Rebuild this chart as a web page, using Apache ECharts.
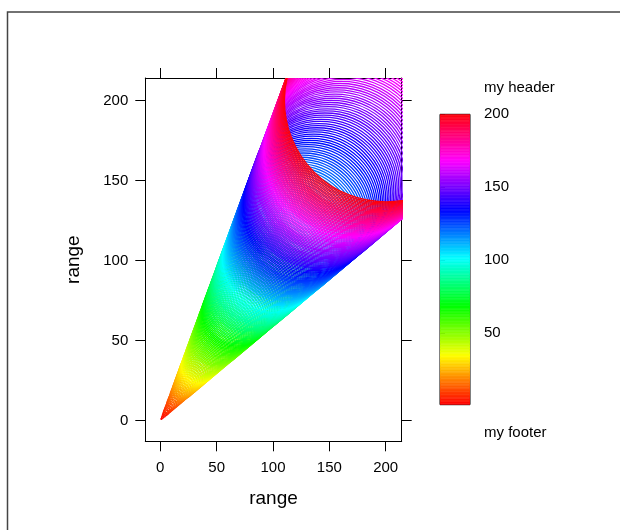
<!DOCTYPE html>
<html>
<head>
<meta charset="utf-8">
<script src="https://cdn.jsdelivr.net/npm/echarts@6/dist/echarts.min.js"></script>
<style>html,body{margin:0;padding:0;background:#fff}#c{width:620px;height:530px}</style>
</head>
<body>
<div id="c"></div>
<script>
// ---- data ----
const xValues = [1,2,3,4,5,6,7,8,9,10,11,12,13,14,15,16,17,18,19,20,21,22,23,24,25,26,27,28,29,30,31,32,33,34,35,36,37,38,39,40,41,42,43,44,45,46,47,48,49,50,51,52,53,54,55,56,57,58,59,60,61,62,63,64,65,66,67,68,69,70,71,72,73,74,75,76,77,78,79,80,81,82,83,84,85,86,87,88,89,90,91,92,93,94,95,96,97,98,99,100,101,102,103,104,105,106,107,108,109,110,111,112,113,114,115,116,117,118,119,120,121,122,123,124,125,126,127,128,129,130,131,132,133,134,135,136,137,138,139,140,141,142,143,144,145,146,147,148,149,150,151,152,153,154,155,156,157,158,159,160,161,162,163,164,165,166,167,168,169,170,171,172,173,174,175,176,177,178,179,180,181,182,183,184,185,186,187,188,189,190,191,192,193,194,195,196,197,198,199,200];
const yValues = [1,2,3,4,5,6,7,8,9,10,11,12,13,14,15,16,17,18,19,20,21,22,23,24,25,26,27,28,29,30,31,32,33,34,35,36,37,38,39,40,41,42,43,44,45,46,47,48,49,50,51,52,53,54,55,56,57,58,59,60,61,62,63,64,65,66,67,68,69,70,71,72,73,74,75,76,77,78,79,80,81,82,83,84,85,86,87,88,89,90,91,92,93,94,95,96,97,98,99,100,101,102,103,104,105,106,107,108,109,110,111,112,113,114,115,116,117,118,119,120,121,122,123,124,125,126,127,128,129,130,131,132,133,134,135,136,137,138,139,140,141,142,143,144,145,146,147,148,149,150,151,152,153,154,155,156,157,158,159,160,161,162,163,164,165,166,167,168,169,170,171,172,173,174,175,176,177,178,179,180,181,182,183,184,185,186,187,188,189,190,191,192,193,194,195,196,197,198,199,200];
const xTicks = [0, 50, 100, 150, 200];
const yTicks = [0, 50, 100, 150, 200];
const keyTicks = [50, 100, 150, 200];
const keyBreaks = [1,2,3,4,5,6,7,8,9,10,11,12,13,14,15,16,17,18,19,20,21,22,23,24,25,26,27,28,29,30,31,32,33,34,35,36,37,38,39,40,41,42,43,44,45,46,47,48,49,50,51,52,53,54,55,56,57,58,59,60,61,62,63,64,65,66,67,68,69,70,71,72,73,74,75,76,77,78,79,80,81,82,83,84,85,86,87,88,89,90,91,92,93,94,95,96,97,98,99,100,101,102,103,104,105,106,107,108,109,110,111,112,113,114,115,116,117,118,119,120,121,122,123,124,125,126,127,128,129,130,131,132,133,134,135,136,137,138,139,140,141,142,143,144,145,146,147,148,149,150,151,152,153,154,155,156,157,158,159,160,161,162,163,164,165,166,167,168,169,170,171,172,173,174,175,176,177,178,179,180,181,182,183,184,185,186,187,188,189,190,191,192,193,194,195,196,197,198,199,200];
const keyHeader = 'my header';
const keyFooter = 'my footer';
const axisTitle = 'range';

// ---- styling helpers ----
const NCOL = 200;
function hsv2rgb(h, s, v) {
  const i = Math.floor(h * 6), f = h * 6 - i;
  const p = v * (1 - s), q = v * (1 - f * s), t = v * (1 - (1 - f) * s);
  let r, g, b;
  switch (i % 6) {
    case 0: r = v; g = t; b = p; break;
    case 1: r = q; g = v; b = p; break;
    case 2: r = p; g = v; b = t; break;
    case 3: r = p; g = q; b = v; break;
    case 4: r = t; g = p; b = v; break;
    default: r = v; g = p; b = q;
  }
  return 'rgb(' + Math.round(r * 255) + ',' + Math.round(g * 255) + ',' + Math.round(b * 255) + ')';
}
function rainbowColor(k) { return hsv2rgb((k - 1) / NCOL, 1, 1); }

const FONT = 'Liberation Sans, Arial, Helvetica, sans-serif';
const RADIUS_PER_UNIT = 0.5064;
const TICK_FONT = 15;
const TITLE_FONT = 19;

const circleData = xValues.map((x, i) => [x, yValues[i], i + 1]);
const keyData = keyBreaks.slice(0, -1).map((b, i) => [b, keyBreaks[i + 1], i + 1]);

const chart = echarts.init(document.getElementById('c'), null, { renderer: 'canvas' });

const lineStyle = { color: '#000', width: 1 };
const tickBase = { show: true, inside: false, length: 10, lineStyle: lineStyle };

chart.setOption({
  backgroundColor: '#fff',
  animation: false,
  textStyle: { fontFamily: FONT },
  grid: [
    { left: 145.3, right: 218.3, top: 78, bottom: 88.7, show: false },
    { left: 440, right: 150, top: 114.3, bottom: 125.3, show: true, borderColor: '#000', borderWidth: 1, backgroundColor: 'transparent' }
  ],
  xAxis: [
    { gridIndex: 0, type: 'value', min: -13.3, max: 214.2, position: 'bottom',
      axisLine: { show: true, onZero: false, lineStyle: lineStyle },
      axisTick: Object.assign({}, tickBase, { customValues: xTicks }),
      axisLabel: { show: true, customValues: xTicks, margin: 19, fontSize: TICK_FONT, color: '#000', fontFamily: FONT },
      splitLine: { show: false },
      name: axisTitle, nameLocation: 'middle', nameGap: 48,
      nameTextStyle: { fontSize: TITLE_FONT, color: '#000', fontFamily: FONT } },
    { gridIndex: 0, type: 'value', min: -13.3, max: 214.2, position: 'top',
      axisLine: { show: true, onZero: false, lineStyle: lineStyle },
      axisTick: Object.assign({}, tickBase, { customValues: xTicks }),
      axisLabel: { show: false }, splitLine: { show: false } },
    { gridIndex: 1, type: 'value', min: 0, max: 1, show: false }
  ],
  yAxis: [
    { gridIndex: 0, type: 'value', min: -13.0, max: 214.1, position: 'left',
      axisLine: { show: true, onZero: false, lineStyle: lineStyle },
      axisTick: Object.assign({}, tickBase, { customValues: yTicks }),
      axisLabel: { show: true, customValues: yTicks, margin: 17, fontSize: TICK_FONT, color: '#000', fontFamily: FONT },
      splitLine: { show: false },
      name: axisTitle, nameLocation: 'middle', nameGap: 62,
      nameTextStyle: { fontSize: TITLE_FONT, color: '#000', fontFamily: FONT } },
    { gridIndex: 0, type: 'value', min: -13.0, max: 214.1, position: 'right',
      axisLine: { show: true, onZero: false, lineStyle: lineStyle },
      axisTick: Object.assign({}, tickBase, { customValues: yTicks }),
      axisLabel: { show: false }, splitLine: { show: false } },
    { gridIndex: 1, type: 'value', min: 1, max: 200, position: 'right',
      axisLine: { show: false },
      axisTick: { show: true, inside: false, length: 5, lineStyle: lineStyle, customValues: keyTicks },
      axisLabel: { show: true, customValues: keyTicks, margin: 14, fontSize: TICK_FONT, color: '#000', fontFamily: FONT },
      splitLine: { show: false } }
  ],
  series: [
    {
      type: 'custom',
      xAxisIndex: 0, yAxisIndex: 0,
      clip: true,
      data: circleData,
      renderItem: function (params, api) {
        const c = api.coord([api.value(0), api.value(1)]);
        const k = api.value(2);
        return {
          type: 'circle',
          shape: { cx: c[0], cy: c[1], r: k * RADIUS_PER_UNIT },
          style: { fill: 'none', stroke: rainbowColor(k), lineWidth: 1.3 }
        };
      }
    },
    {
      type: 'custom',
      xAxisIndex: 2, yAxisIndex: 2,
      clip: true,
      z: 1,
      data: keyData,
      renderItem: function (params, api) {
        const p0 = api.coord([0, api.value(0)]);
        const p1 = api.coord([1, api.value(1)]);
        const col = rainbowColor(api.value(2));
        return {
          type: 'rect',
          shape: { x: p0[0], y: p1[1], width: p1[0] - p0[0], height: p0[1] - p1[1] },
          style: { fill: col, stroke: col, lineWidth: 0.6 }
        };
      }
    }
  ],
  graphic: [
    { type: 'rect', silent: true, z: 100,
      shape: { x: 7.5, y: 12, width: 700, height: 600 },
      style: { fill: 'none', stroke: '#444', lineWidth: 1.5 } },
    { type: 'text', left: 484, top: 80, silent: true,
      style: { text: keyHeader, fontSize: TICK_FONT, fill: '#000', fontFamily: FONT } },
    { type: 'text', left: 484, top: 425, silent: true,
      style: { text: keyFooter, fontSize: TICK_FONT, fill: '#000', fontFamily: FONT } }
  ]
});
</script>
</body>
</html>
